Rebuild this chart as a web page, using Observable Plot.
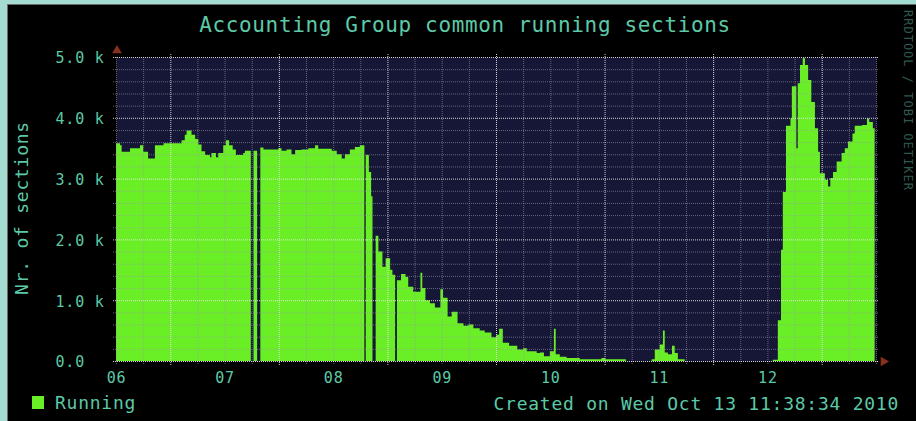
<!DOCTYPE html>
<html>
<head>
<meta charset="utf-8">
<script src="https://cdn.jsdelivr.net/npm/d3@7"></script>
<script src="https://cdn.jsdelivr.net/npm/@observablehq/plot@0.6"></script>
<style>
  html, body { margin: 0; padding: 0; background: #a4dcd2; }
  #wrap { position: relative; width: 916px; height: 421px; overflow: hidden; }
  #panel { position: absolute; left: 7px; top: 4px; right: -2px; bottom: -2px; background: #000;
           border-left: 1px solid #6b6b6b; border-top: 1px solid #6b6b6b; }
  #wrap svg { position: absolute; left: 0; top: 0; }
</style>
</head>
<body>
<div id="wrap"><div id="panel"></div></div>
<script>
// ---- data (hours since 2010-10-06 00:00, sections) ----
const hours = [0, 0.9, 1.25, 3.1, 5.3, 6.0, 7.1, 8.6, 10.5, 14.5, 15.2, 15.6, 16.7, 17.5, 18.2, 18.9, 19.7, 20.8, 21.1, 22.1, 22.6, 23.7, 24.3, 25.0, 25.8, 26.5, 28.1, 28.5, 29.8, 30.4, 31.2, 31.9, 32.6, 35.9, 36.6, 37.7, 38.8, 39.6, 41.0, 42.5, 44.0, 44.7, 47.7, 48.8, 49.9, 50.6, 51.7, 52.8, 53.9, 54.9, 55.2, 55.9, 56.4, 56.7, 57.4, 58.0, 58.9, 59.6, 60.6, 61.1, 61.7, 62.1, 63.0, 64.0, 64.6, 65.7, 67.3, 67.7, 68.4, 69.4, 70.5, 71.7, 72.3, 73.3, 74.2, 75.5, 76.8, 77.9, 79.0, 80.4, 81.5, 83.0, 84.1, 84.7, 85.5, 86.9, 88.7, 90.0, 90.8, 93.0, 93.7, 94.6, 95.9, 96.8, 97.2, 98.1, 99.6, 102.5, 107.3, 108.1, 112.7, 118.4, 119.1, 120.2, 120.9, 121.3, 122.0, 122.9, 123.5, 124.2, 125.7, 145.2, 146.3, 147.0, 147.4, 148.1, 149.1, 149.4, 150.4, 150.7, 151.2, 151.8, 152.3, 153.0, 153.7, 154.5, 155.2, 155.6, 156.7, 157.4, 157.9, 158.5, 159.3, 160.4, 161.1, 161.8, 162.8, 163.3, 164.9, 166.0, 166.5, 167.3, 167.7];
const running = [3580, 3550, 3440, 3500, 3550, 3440, 3330, 3550, 3580, 3630, 3720, 3790, 3720, 3650, 3560, 3450, 3390, 3350, 3420, 3350, 3420, 3550, 3630, 3550, 3480, 3390, 3420, 3460, 0, 3460, 0, 3510, 3480, 3500, 3460, 3480, 3400, 3470, 3480, 3500, 3550, 3490, 3460, 3400, 3330, 3400, 3480, 3520, 3550, 0, 3390, 3110, 2710, 0, 2060, 1800, 1550, 1690, 1500, 1420, 0, 1330, 1430, 1380, 1220, 1140, 1450, 1200, 1000, 950, 880, 1180, 1040, 730, 810, 620, 580, 600, 540, 500, 470, 390, 430, 530, 300, 250, 190, 210, 160, 130, 140, 80, 160, 530, 110, 70, 50, 30, 50, 30, 0, 30, 190, 270, 500, 140, 110, 250, 130, 30, 0, 20, 670, 1830, 2780, 3870, 3990, 4520, 3500, 4570, 4870, 4980, 4870, 4620, 4260, 3830, 3440, 3090, 2980, 2870, 3010, 3110, 3280, 3420, 3500, 3610, 3740, 3870, 3880, 3990, 3930, 3830, 0];
const dayLabels = ["06", "07", "08", "09", "10", "11", "12"];
const yTicks = [0, 1000, 2000, 3000, 4000, 5000];
const yTickLabels = ["0.0", "1.0 k", "2.0 k", "3.0 k", "4.0 k", "5.0 k"];
const title = "Accounting Group common running sections";
const yTitle = "Nr. of sections";
const seriesName = "Running";
const footer = "Created on Wed Oct 13 11:38:34 2010";
const watermark = "RRDTOOL / TOBI OETIKER";

// ---- build ----
const t0 = Date.UTC(2010, 9, 6);
const toDate = h => new Date(t0 + h * 3600e3);
const data = hours.map((h, i) => ({t: toDate(h), v: running[i]}));

const TEAL = "#5cc9a7";
const GREEN = "#6aef26";
const NAVY = "#161637";
const ARROW = "#86301f";
const FONT = "'DejaVu Sans Mono', monospace";

const minorY = d3.range(200, 5000, 200).filter(v => v % 1000 !== 0);
const majorY = d3.range(0, 5001, 1000);
const minorX = d3.range(0, 169, 6).filter(h => h % 24 !== 12).map(toDate);
const majorX = d3.range(12, 168, 24).map(toDate);

const chart = Plot.plot({
  width: 916,
  height: 421,
  marginLeft: 116,
  marginRight: 40,
  marginTop: 57,
  marginBottom: 60,
  x: {type: "utc", domain: [toDate(0), toDate(168)], axis: null},
  y: {domain: [0, 5000], axis: null},
  style: {background: "transparent", fontFamily: FONT, color: TEAL, overflow: "visible"},
  marks: [
    Plot.frame({fill: NAVY, stroke: "none"}),
    Plot.areaY(data, {x: "t", y: "v", curve: "step-after", fill: GREEN}),
    Plot.ruleY(minorY, {stroke: "#9a9aaa", strokeOpacity: 0.6, strokeDasharray: "1,1", insetLeft: -3, insetRight: -3}),
    Plot.ruleX(minorX, {stroke: "#9a9aaa", strokeOpacity: 0.6, strokeDasharray: "1,1", insetBottom: -3}),
    Plot.ruleY(majorY, {stroke: "#e8e8e8", strokeOpacity: 0.9, strokeDasharray: "1,1", insetLeft: -3, insetRight: -3}),
    Plot.ruleX(majorX, {stroke: "#e8e8e8", strokeOpacity: 0.9, strokeDasharray: "1,1", insetTop: -3, insetBottom: -5}),
    Plot.text(yTicks, {y: d => d, frameAnchor: "left", text: (d, i) => yTickLabels[i], textAnchor: "start",
      dx: -61, dy: 1, fontSize: 15, fill: TEAL, fontFamily: FONT}),
    Plot.text(dayLabels, {x: (d, i) => toDate(24 * i), text: d => d, frameAnchor: "bottom", lineAnchor: "top",
      dy: 11, fontSize: 15, fill: TEAL, fontFamily: FONT}),
    Plot.dot([0], {x: () => toDate(0), y: () => 5000, dy: -7, dx: 0.5, symbol: "triangle", r: 3.6, fill: ARROW, stroke: "none"}),
    Plot.dot([0], {x: () => toDate(168), y: () => 0, dx: 7, symbol: "triangle", rotate: 90, r: 3.6, fill: ARROW, stroke: "none"})
  ]
});
chart.querySelectorAll("text").forEach(t => t.style.letterSpacing = "0.8px");
document.getElementById("wrap").appendChild(chart);

// ---- titles, legend, footer ----
const ns = "http://www.w3.org/2000/svg";
const ov = document.createElementNS(ns, "svg");
ov.setAttribute("width", 916);
ov.setAttribute("height", 421);
ov.style.fontFamily = FONT;
function addText(str, attrs, style) {
  const el = document.createElementNS(ns, "text");
  for (const k in attrs) el.setAttribute(k, attrs[k]);
  el.setAttribute("style", style || "");
  el.textContent = str;
  ov.appendChild(el);
  return el;
}
addText(title, {x: 465, y: 32, "text-anchor": "middle", fill: TEAL}, "font-size:21px;letter-spacing:0.65px");
addText(yTitle, {transform: "translate(28,208) rotate(-90)", "text-anchor": "middle", fill: TEAL}, "font-size:18px;letter-spacing:0.75px");
addText(seriesName, {x: 55, y: 409, fill: TEAL}, "font-size:18px;letter-spacing:0.75px");
addText(footer, {x: 899, y: 410, "text-anchor": "end", fill: TEAL}, "font-size:18px;letter-spacing:0.75px");
addText(watermark, {transform: "translate(904,10) rotate(90)", fill: "#2e5a4e"}, "font-size:12px;letter-spacing:1px");
const sw = document.createElementNS(ns, "rect");
sw.setAttribute("x", 32); sw.setAttribute("y", 396); sw.setAttribute("width", 12); sw.setAttribute("height", 13);
sw.setAttribute("fill", GREEN);
ov.appendChild(sw);
document.getElementById("wrap").appendChild(ov);
</script>
</body>
</html>
